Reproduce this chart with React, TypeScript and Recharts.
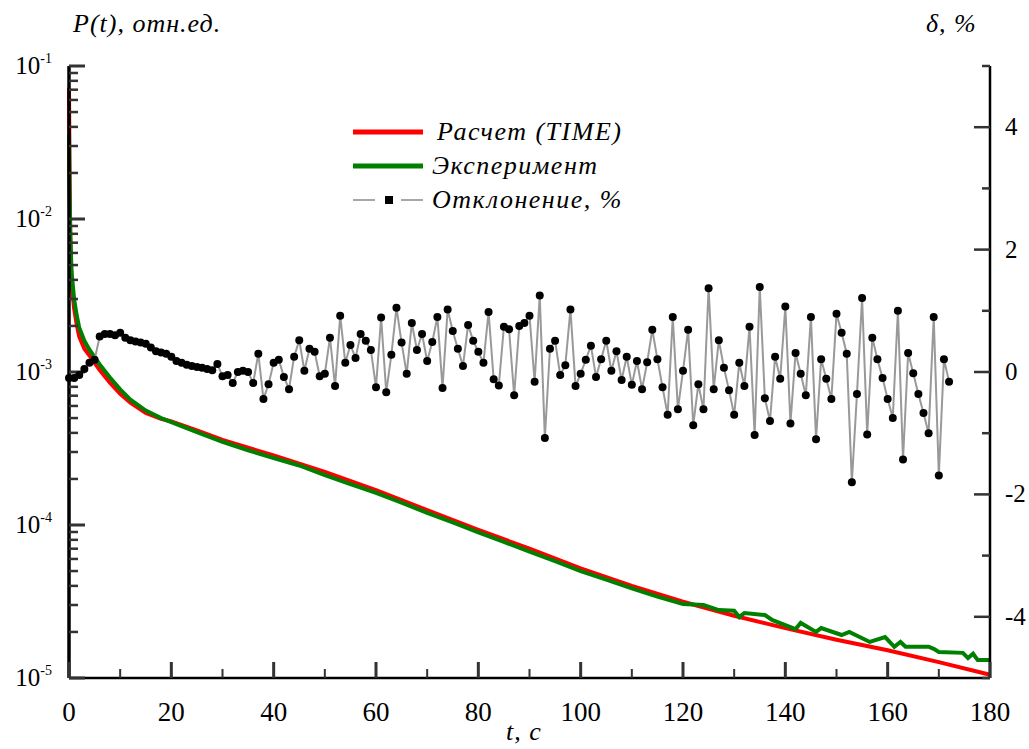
import React from "react";
import { ComposedChart, Line, XAxis, YAxis, Legend } from "recharts";

const FONT = '"Liberation Serif", "Times New Roman", serif';
const INK = "#000";
const TICK = "#333333";

// Расчет (TIME): time, s and P(t), rel. units
const calcTime = [0, 0.1, 0.25, 0.5, 1, 1.5, 2, 3, 4, 5, 6, 8, 10, 12, 15, 18, 20, 25, 30, 35, 40, 50, 60, 70, 80, 90, 100, 110, 120, 130, 140, 150, 160, 170, 180];
const calcP = [0.072, 0.022, 7.5e-3, 3.8e-3, 2.6e-3, 2.05e-3, 1.7e-3, 1.42e-3, 1.28e-3, 1.15e-3, 1.03e-3, 8.5e-4, 7.2e-4, 6.3e-4, 5.4e-4, 4.95e-4, 4.75e-4, 4.15e-4, 3.6e-4, 3.2e-4, 2.85e-4, 2.22e-4, 1.69e-4, 1.25e-4, 9.3e-5, 7.0e-5, 5.2e-5, 4.0e-5, 3.15e-5, 2.55e-5, 2.12e-5, 1.78e-5, 1.52e-5, 1.27e-5, 1.05e-5];

// Эксперимент
const expTime = [0, 0.1, 0.25, 0.5, 1, 1.5, 2, 3, 4, 5, 6, 8, 10, 12, 15, 18, 20, 25, 30, 35, 40, 45, 50, 55, 60, 65, 70, 75, 80, 85, 90, 95, 100, 105, 110, 115, 120, 124, 127, 130, 131, 132, 136, 137.5, 141, 142, 143, 146, 147, 151, 152.5, 156.5, 159.5, 161.3, 162.5, 163.5, 168, 169, 170, 174.7, 175.7, 176.7, 177.6, 180];
const expP = [0.036, 0.016, 8e-3, 4.5e-3, 3.0e-3, 2.35e-3, 1.95e-3, 1.6e-3, 1.4e-3, 1.25e-3, 1.12e-3, 9.2e-4, 7.7e-4, 6.6e-4, 5.6e-4, 5.0e-4, 4.7e-4, 4.05e-4, 3.5e-4, 3.08e-4, 2.74e-4, 2.45e-4, 2.12e-4, 1.85e-4, 1.62e-4, 1.4e-4, 1.2e-4, 1.04e-4, 8.95e-5, 7.75e-5, 6.7e-5, 5.8e-5, 5.0e-5, 4.4e-5, 3.85e-5, 3.4e-5, 3.05e-5, 3.0e-5, 2.78e-5, 2.75e-5, 2.5e-5, 2.66e-5, 2.58e-5, 2.39e-5, 2.15e-5, 2.09e-5, 2.29e-5, 2.0e-5, 2.12e-5, 1.91e-5, 2.0e-5, 1.72e-5, 1.85e-5, 1.6e-5, 1.72e-5, 1.6e-5, 1.6e-5, 1.55e-5, 1.48e-5, 1.46e-5, 1.35e-5, 1.44e-5, 1.31e-5, 1.31e-5];

// Отклонение, %: one point per second, t = 0 ... 172
const deviation = [
  -0.1, -0.1, -0.05, 0.05, 0.15, 0.2, 0.58, 0.62, 0.62, 0.6,
  0.64, 0.56, 0.52, 0.5, 0.48, 0.46, 0.4, 0.34, 0.32, 0.3,
  0.25, 0.18, 0.15, 0.12, 0.1, 0.08, 0.07, 0.05, 0.03, 0.13,
  -0.07, -0.05, -0.18, 0, 0.02, 0.0, -0.18, 0.3, -0.44, -0.2,
  0.15, 0.2, -0.08, -0.28, 0.25, 0.52, 0.02, 0.38, 0.33, -0.07,
  -0.03, 0.56, -0.23, 0.92, 0.15, 0.44, 0.23, 0.62, 0.51, 0.36,
  -0.25, 0.89, -0.33, 0.28, 1.05, 0.48, -0.03, 0.8, 0.36, 0.62,
  0.18, 0.49, 0.9, -0.26, 1.02, 0.67, 0.38, 0.1, 0.77, 0.51,
  0.33, 0.15, 0.98, -0.12, -0.22, 0.74, 0.7, -0.38, 0.75, 0.8,
  0.92, -0.16, 1.25, -1.08, 0.38, 0.51, -0.05, 0.11, 1.02, -0.23,
  -0.03, 0.2, 0.43, -0.08, 0.21, 0.51, 0.02, 0.34, -0.13, 0.25,
  -0.21, 0.18, -0.28, 0.16, 0.69, 0.21, -0.25, -0.7, 0.9, -0.61,
  0.02, 0.69, -0.87, -0.2, -0.61, 1.37, -0.28, 0.52, 0.07, -0.3,
  -0.7, 0.15, -0.23, 0.74, -1.03, 1.39, -0.43, -0.8, 0.25, -0.11,
  1.07, -0.84, 0.31, -0.03, -0.38, 0.9, -1.1, 0.21, -0.11, -0.44,
  0.95, 0.64, 0.3, -1.8, -0.36, 1.21, -1.02, 0.56, 0.21, -0.1,
  -0.44, -0.75, 1.0, -1.43, 0.31, -0.02, -0.36, -0.67, -1.0, 0.9,
  -1.69, 0.21, -0.16,
];

const xTicks = [0, 10, 20, 30, 40, 50, 60, 70, 80, 90, 100, 110, 120, 130, 140, 150, 160, 170, 180];
const pDecades = [1e-5, 1e-4, 1e-3, 1e-2, 1e-1];
const pMinor = [2, 3, 4, 5, 6, 7, 8, 9];
const dTicks = [-5, -4, -3, -2, -1, 0, 1, 2, 3, 4, 5];

const pTicks = [
  ...pDecades.slice(0, 4).flatMap((d) => [d, ...pMinor.map((m) => m * d)]),
  1e-1,
];

const calcData = calcTime.map((t, i) => ({ t, p: calcP[i] }));
const expData = expTime.map((t, i) => ({ t, p: expP[i] }));
const devData = deviation.map((d, i) => ({ t: i, d }));

const isDecade = (v: number) => {
  const e = Math.round(Math.log10(v));
  return Math.abs(v - Math.pow(10, e)) / v < 1e-6;
};

// anchor points of the inward tick marks, placed through the axes' scales
const xAnchors = xTicks.map((t) => ({ t, p: 1e-5 }));
const pAnchors = pTicks.map((v) => ({ t: 0, p: v }));
const dAnchors = dTicks.map((v) => ({ t: 180, d: v }));

const XMark = (props: any) => {
  const { cx, cy, payload } = props;
  const major = payload.t % 20 === 0;
  const len = major ? 16 : 9;
  const w = major ? 3 : 2;
  return <rect x={cx - w / 2} y={cy - len} width={w} height={len} fill={TICK} />;
};

const PMark = (props: any) => {
  const { cx, cy, payload } = props;
  const major = isDecade(payload.p);
  const len = major ? 16 : 9;
  const w = major ? 3 : 2.5;
  return <rect x={cx} y={cy - w / 2} width={len} height={w} fill={TICK} />;
};

const DMark = (props: any) => {
  const { cx, cy, payload } = props;
  const len = payload.d % 2 === 0 ? 16 : 8;
  return <rect x={cx - len} y={cy - 1.25} width={len} height={2.5} fill={TICK} />;
};

const XTick = (props: any) => {
  const { x, y, payload } = props;
  if (payload.value % 20 !== 0) return <g />;
  return (
    <text x={x} y={y} dy="0.71em" textAnchor="middle" fontFamily={FONT} fontSize={27} fill="#000">
      {payload.value}
    </text>
  );
};

const PTick = (props: any) => {
  const { x, y, payload } = props;
  if (!isDecade(payload.value)) return <g />;
  return (
    <text x={x} y={y + 8} textAnchor="end" fontFamily={FONT} fontSize={25} fill="#000">
      10
      <tspan dy={-11} fontSize={14}>{Math.round(Math.log10(payload.value))}</tspan>
    </text>
  );
};

const DTick = (props: any) => {
  const { x, y, payload } = props;
  if (payload.value % 2 !== 0 || Math.abs(payload.value) >= 5) return <g />;
  return (
    <text x={x} y={y + 8} textAnchor="start" fontFamily={FONT} fontSize={25} fill="#000">
      {payload.value}
    </text>
  );
};

const legendText: React.CSSProperties = {
  fontFamily: FONT,
  fontStyle: "italic",
  fontSize: 26,
  letterSpacing: 1.5,
  color: "#000",
  whiteSpace: "nowrap",
};

const renderLegend = () => (
  <div>
    <div style={{ display: "flex", alignItems: "center", height: 34 }}>
      <svg width={84} height={34}>
        <line x1={0} x2={70} y1={17} y2={17} stroke="#ff0000" strokeWidth={5} />
      </svg>
      <span style={legendText}>Расчет (TIME)</span>
    </div>
    <div style={{ display: "flex", alignItems: "center", height: 34 }}>
      <svg width={79} height={34}>
        <line x1={0} x2={70} y1={17} y2={17} stroke="#008000" strokeWidth={5} />
      </svg>
      <span style={legendText}>Эксперимент</span>
    </div>
    <div style={{ display: "flex", alignItems: "center", height: 34 }}>
      <svg width={79} height={34}>
        <line x1={0} x2={22} y1={17} y2={17} stroke="#8a8a8a" strokeWidth={1.5} />
        <rect x={32} y={13} width={8} height={8} fill={INK} />
        <line x1={48} x2={70} y1={17} y2={17} stroke="#8a8a8a" strokeWidth={1.5} />
      </svg>
      <span style={legendText}>Отклонение, %</span>
    </div>
  </div>
);

const titleStyle: React.CSSProperties = {
  position: "absolute",
  fontFamily: FONT,
  fontStyle: "italic",
  fontSize: 26,
  letterSpacing: 1,
  lineHeight: "30px",
  whiteSpace: "nowrap",
  color: "#000",
};

export default function App() {
  return (
    <div style={{ position: "absolute", left: 0, top: 0, width: 1029, height: 749, background: "#fff" }}>
      <ComposedChart width={1029} height={749} margin={{ top: 66, right: 0, bottom: 21, left: 9 }}>
        <XAxis
          dataKey="t"
          type="number"
          domain={[0, 180]}
          ticks={xTicks}
          interval={0}
          tick={(p: any) => <XTick {...p} />}
          tickLine={false}
          tickMargin={18}
          axisLine={{ stroke: INK, strokeWidth: 2.5 }}
          height={50}
        />
        <YAxis
          yAxisId="p"
          type="number"
          scale="log"
          domain={[1e-5, 1e-1]}
          ticks={pTicks}
          interval={0}
          tick={(p: any) => <PTick {...p} />}
          tickLine={false}
          tickMargin={11}
          axisLine={{ stroke: INK, strokeWidth: 3.5 }}
          width={60}
        />
        <YAxis
          yAxisId="d"
          orientation="right"
          type="number"
          domain={[-5, 5]}
          ticks={dTicks}
          interval={0}
          tick={(p: any) => <DTick {...p} />}
          tickLine={false}
          tickMargin={9}
          axisLine={{ stroke: INK, strokeWidth: 2.5 }}
          width={39}
        />

        <Line yAxisId="p" data={xAnchors} dataKey="p" stroke="none" dot={(p: any) => <XMark key={`xm${p.index}`} {...p} />} activeDot={false} isAnimationActive={false} />
        <Line yAxisId="p" data={pAnchors} dataKey="p" stroke="none" dot={(p: any) => <PMark key={`pm${p.index}`} {...p} />} activeDot={false} isAnimationActive={false} />
        <Line yAxisId="d" data={dAnchors} dataKey="d" stroke="none" dot={(p: any) => <DMark key={`dm${p.index}`} {...p} />} activeDot={false} isAnimationActive={false} />

        <Line yAxisId="p" data={calcData} dataKey="p" type="linear" stroke="#ff0000" strokeWidth={4} dot={false} activeDot={false} isAnimationActive={false} />
        <Line yAxisId="p" data={expData} dataKey="p" type="linear" stroke="#008000" strokeWidth={4} dot={false} activeDot={false} isAnimationActive={false} />
        <Line
          yAxisId="d"
          data={devData}
          dataKey="d"
          type="linear"
          stroke="#999999"
          strokeWidth={2}
          dot={{ r: 4, fill: INK, stroke: "none" }}
          activeDot={false}
          isAnimationActive={false}
        />
        <Legend
          layout="vertical"
          align="center"
          verticalAlign="middle"
          content={renderLegend}
          wrapperStyle={{ left: 353, top: 115, width: 320, height: 102 }}
        />
      </ComposedChart>
      <div style={{ ...titleStyle, left: 73, top: 9 }}>P(t), отн.ед.</div>
      <div style={{ ...titleStyle, left: 926, top: 9 }}>δ, %</div>
      <div style={{ ...titleStyle, left: 506, top: 717 }}>t, c</div>
    </div>
  );
}
